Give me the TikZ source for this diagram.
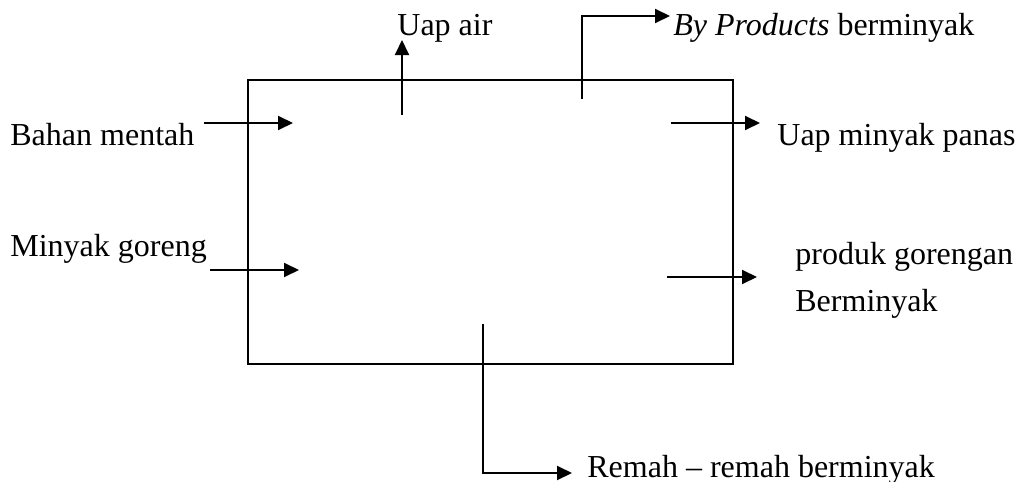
\documentclass[tikz,border=0pt]{standalone}
\usepackage{fontspec}
\setmainfont{Liberation Serif}
\usetikzlibrary{arrows.meta}

\begin{document}
\begin{tikzpicture}[x=0.5pt, y=-0.5pt, font=\fontsize{16}{23.5}\selectfont]
    \tikzset{panah/.style={line width=1pt, -{Triangle[length=7.5pt, width=7pt]}}}
    \tikzset{teks/.style={inner sep=0pt, anchor=base west}}
    \useasboundingbox (0, 0) rectangle (1019, 482);
    
    \node [draw, line width=0.8pt, minimum width=242.5pt, minimum height=142pt, inner sep=0pt] (wajan) at (490.5, 222) {};
    
    \coordinate (bahan0) at (204, 123);
    \coordinate (bahan1) at (293, 123);
    \coordinate (minyak0) at (210, 270);
    \coordinate (minyak1) at (299, 270);
    \coordinate (uapair0) at (402, 115);
    \coordinate (uapair1) at (402, 40);
    \coordinate (bypro0) at (582, 99);
    \coordinate (bypro1) at (670, 16);
    \coordinate (uapmin0) at (671, 123);
    \coordinate (uapmin1) at (760, 123);
    \coordinate (produk0) at (667, 277);
    \coordinate (produk1) at (757, 277);
    \coordinate (remah0) at (483, 324);
    \coordinate (remah1) at (572, 473);
    
    \node [teks] (tbahan) at (10, 145) {Bahan mentah};
    \node [teks] (tminyak) at (10, 256) {Minyak goreng};
    \node [teks] (tuapair) at (397, 35) {Uap air};
    \node [teks] (tbypro) at (673, 35) {\textit{By Products} berminyak};
    \node [teks] (tuapmin) at (777, 145) {Uap minyak panas};
    \node [inner sep=0pt, anchor=north west, align=left] (tproduk) at (795, 242) {produk gorengan\\Berminyak};
    \node [teks] (tremah) at (587, 477) {Remah -- remah berminyak};
    
    \draw [panah] (bahan0) -- (bahan1);
    \draw [panah] (minyak0) -- (minyak1);
    \draw [panah] (uapair0) -- (uapair1);
    \draw [panah] (bypro0) |- (bypro1);
    \draw [panah] (uapmin0) -- (uapmin1);
    \draw [panah] (produk0) -- (produk1);
    \draw [panah] (remah0) |- (remah1);
\end{tikzpicture}
\end{document}
